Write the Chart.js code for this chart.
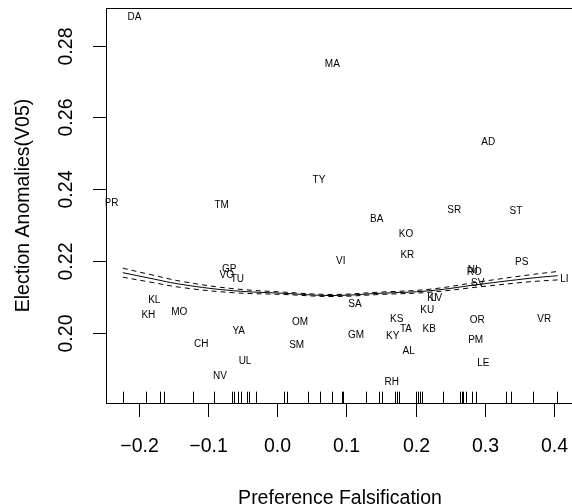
<!DOCTYPE html>
<html>
<head>
<meta charset="utf-8">
<script src="https://cdn.jsdelivr.net/npm/chart.js@4.4.1/dist/chart.umd.min.js"></script>
<style>
  html, body { margin: 0; padding: 0; background: #fff; overflow: hidden; }
  #wrap { position: relative; width: 576px; height: 504px; }
</style>
</head>
<body>
<div id="wrap"><canvas id="chart" width="576" height="504"></canvas></div>
<script>
// Region codes and their positions (preference falsification vs. V05 anomalies)
const regionCodes = ['DA', 'MA', 'TY', 'AD', 'PR', 'TM', 'GP', 'VO', 'TU', 'KL', 'KH',
  'MO', 'YA', 'CH', 'UL', 'NV', 'OM', 'SM', 'VI', 'SR', 'ST', 'BA', 'KO', 'KR', 'PS',
  'NI', 'RO', 'SV', 'LI', 'KI', 'LV', 'SA', 'KU', 'KS', 'TA', 'KB', 'OR', 'VR', 'GM',
  'KY', 'PM', 'AL', 'LE', 'RH'];
const falsification = [-0.2058, 0.0799, 0.0606, 0.3051, -0.2390, -0.0799, -0.0689,
  -0.0726, -0.0573, -0.1772, -0.1858, -0.1411, -0.0553, -0.1093, -0.0462, -0.0823,
  0.0332, 0.0284, 0.0920, 0.2560, 0.3451, 0.1440, 0.1863, 0.1882, 0.3534, 0.2826,
  0.2849, 0.2898, 0.4149, 0.2238, 0.2303, 0.1126, 0.2170, 0.1729, 0.1863, 0.2199,
  0.2892, 0.3860, 0.1141, 0.1671, 0.2869, 0.1902, 0.2979, 0.1656];
const anomalies = [0.2879, 0.2749, 0.2426, 0.2531, 0.2361, 0.2357, 0.2178, 0.2162,
  0.2150, 0.2092, 0.2049, 0.2058, 0.2005, 0.1969, 0.1922, 0.1880, 0.2030, 0.1967,
  0.2201, 0.2343, 0.2340, 0.2317, 0.2276, 0.2216, 0.2198, 0.2176, 0.2170, 0.2138,
  0.2150, 0.2097, 0.2097, 0.2080, 0.2064, 0.2038, 0.2010, 0.2010, 0.2036, 0.2039,
  0.1994, 0.1990, 0.1979, 0.1948, 0.1915, 0.1864];

// Quadratic fit and its confidence band
const fitX = [-0.2228, -0.1834, -0.1353, -0.0631, 0.0091, 0.0794, 0.1487, 0.2209,
  0.2931, 0.3653, 0.4053];
const fitMid = [0.2168, 0.21524, 0.21345, 0.21178, 0.21106, 0.21045, 0.21106,
  0.21178, 0.21357, 0.21524, 0.21596];
const fitUpper = [0.21805, 0.2163, 0.21429, 0.21234, 0.21139, 0.21073, 0.21139,
  0.2122, 0.21427, 0.21621, 0.21713];
const fitLower = [0.21555, 0.21418, 0.21261, 0.21122, 0.21073, 0.21017, 0.21073,
  0.21136, 0.21287, 0.21427, 0.21479];

// Rug marks along the x axis
const rugValues = [-0.2228, -0.1896, -0.1690, -0.1632, -0.1217, -0.0910, -0.0654,
  -0.0625, -0.0563, -0.0517, -0.0433, -0.0404, -0.0308, 0.0108, 0.0140, 0.0452,
  0.0621, 0.0794, 0.0939, 0.0960, 0.1281, 0.1473, 0.1516, 0.1704, 0.1733, 0.1762,
  0.2003, 0.2032, 0.2065, 0.2098, 0.2404, 0.2643, 0.2667, 0.2690, 0.2725, 0.2820,
  0.2869, 0.3303, 0.3375, 0.3692, 0.4048];

const xTicks = [-0.2, -0.1, 0.0, 0.1, 0.2, 0.3, 0.4];
const xTickLabels = ['\u22120.2', '\u22120.1', '0.0', '0.1', '0.2', '0.3', '0.4'];
const yTicks = [0.20, 0.22, 0.24, 0.26, 0.28];
const yTickLabels = ['0.20', '0.22', '0.24', '0.26', '0.28'];

const xTitle = 'Preference Falsification';
const yTitle = 'Election Anomalies(V05)';

const FONT = "'Liberation Sans', Arial, Helvetica, sans-serif";

const toPoints = (xs, ys) => xs.map((x, i) => ({ x: x, y: ys[i] }));

// Region codes written at each point, clipped to the plot box
const codeLabels = {
  id: 'codeLabels',
  afterDatasetsDraw(chart) {
    const ctx = chart.ctx;
    const area = chart.chartArea;
    const meta = chart.getDatasetMeta(0);
    ctx.save();
    ctx.beginPath();
    ctx.rect(area.left, area.top, area.right - area.left, area.bottom - area.top);
    ctx.clip();
    ctx.fillStyle = '#000';
    ctx.font = '10px ' + FONT;
    ctx.textAlign = 'center';
    ctx.textBaseline = 'middle';
    meta.data.forEach((pt, i) => {
      ctx.fillText(regionCodes[i], pt.x, pt.y);
    });
    ctx.restore();
  }
};

// Base-graphics style box, axes, rug and titles
const baseAxes = {
  id: 'baseAxes',
  afterDraw(chart) {
    const ctx = chart.ctx;
    const area = chart.chartArea;
    const xs = chart.scales.x;
    const ys = chart.scales.y;
    const left = Math.round(area.left) + 0.5;
    const top = Math.round(area.top) + 0.5;
    const bottom = Math.round(area.bottom) + 0.5;
    const right = area.right;

    ctx.save();
    ctx.strokeStyle = '#000';
    ctx.lineWidth = 1;
    ctx.strokeRect(left, top, right - left, bottom - top);

    // rug
    const rugLen = 0.03 * (area.bottom - area.top);
    ctx.beginPath();
    rugValues.forEach(v => {
      const px = Math.round(xs.getPixelForValue(v)) + 0.5;
      ctx.moveTo(px, bottom);
      ctx.lineTo(px, bottom - rugLen);
    });
    ctx.stroke();

    ctx.fillStyle = '#000';
    ctx.font = '19.5px ' + FONT;
    ctx.textAlign = 'center';
    ctx.textBaseline = 'middle';

    // x axis
    xTicks.forEach((v, i) => {
      const px = Math.round(xs.getPixelForValue(v)) + 0.5;
      ctx.beginPath();
      ctx.moveTo(px, bottom);
      ctx.lineTo(px, bottom + 13.5);
      ctx.stroke();
      ctx.fillText(xTickLabels[i], px, 447);
    });

    // y axis
    yTicks.forEach((v, i) => {
      const py = Math.round(ys.getPixelForValue(v)) + 0.5;
      ctx.beginPath();
      ctx.moveTo(left, py);
      ctx.lineTo(left - 13.5, py);
      ctx.stroke();
      ctx.save();
      ctx.translate(67, py);
      ctx.rotate(-Math.PI / 2);
      ctx.fillText(yTickLabels[i], 0, 0);
      ctx.restore();
    });

    // titles
    ctx.fillText(xTitle, (area.left + area.right) / 2, 499);
    ctx.save();
    ctx.translate(24, (area.top + area.bottom) / 2);
    ctx.rotate(-Math.PI / 2);
    ctx.fillText(yTitle, 0, 0);
    ctx.restore();

    ctx.restore();
  }
};

const lineStyle = {
  type: 'line',
  borderColor: '#000',
  borderWidth: 1,
  pointRadius: 0,
  fill: false,
  tension: 0.4
};

new Chart(document.getElementById('chart'), {
  type: 'scatter',
  data: {
    datasets: [
      {
        label: 'regions',
        data: toPoints(falsification, anomalies),
        pointRadius: 0,
        pointHoverRadius: 0
      },
      Object.assign({ label: 'fit', data: toPoints(fitX, fitMid) }, lineStyle),
      Object.assign({ label: 'upper', data: toPoints(fitX, fitUpper), borderDash: [5, 4] }, lineStyle),
      Object.assign({ label: 'lower', data: toPoints(fitX, fitLower), borderDash: [5, 4] }, lineStyle)
    ]
  },
  options: {
    responsive: false,
    animation: false,
    events: [],
    layout: { padding: { left: 105.5, top: 8.3, right: 1.5, bottom: 101.3 } },
    plugins: {
      legend: { display: false },
      tooltip: { enabled: false }
    },
    scales: {
      x: { type: 'linear', display: false, min: -0.2477, max: 0.4296 },
      y: { type: 'linear', display: false, min: 0.1806, max: 0.2904 }
    }
  },
  plugins: [codeLabels, baseAxes]
});
</script>
</body>
</html>
